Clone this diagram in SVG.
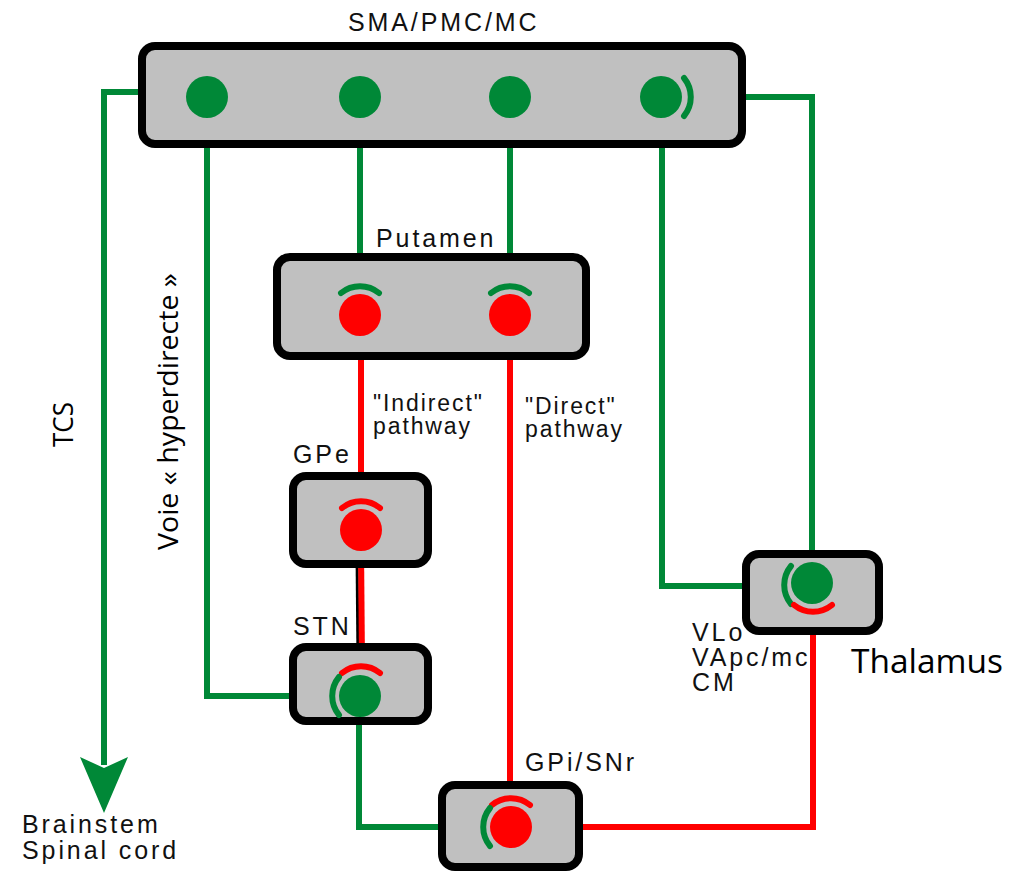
<svg xmlns="http://www.w3.org/2000/svg" width="1022" height="878" viewBox="0 0 1022 878">
  <style>
    .box { fill: #c0c0c0; stroke: #000; stroke-width: 8; }
    .lbl { font-family: "Liberation Sans", Arial, sans-serif; font-size: 25px; letter-spacing: 2.9px; fill: #111; }
    .path-lbl { font-size: 23px; letter-spacing: 1.9px; }
    .cal { font-family: "Open Sans", "Liberation Sans", sans-serif; fill: #000; }
    .g { stroke: #008837; stroke-width: 6; fill: none; }
    .r { stroke: #ff0000; stroke-width: 6; fill: none; }
    .syn-g { stroke: #008837; stroke-width: 6; fill: none; stroke-linecap: round; }
    .syn-r { stroke: #ff0000; stroke-width: 6; fill: none; stroke-linecap: round; }
    .cg { fill: #008837; }
    .cr { fill: #ff0000; }
  </style>

  <!-- connectors -->
  <g id="connectors">
    <!-- corticospinal tract -->
    <polyline class="g" points="142,92 104,92 104,765"/>
    <polygon class="cg" points="80,757 104,768 128,757 104,813"/>
    <!-- hyperdirect pathway: cortex to STN -->
    <polyline class="g" points="207,110 207,696 330,696"/>
    <!-- cortex to putamen -->
    <line class="g" x1="360" y1="110" x2="360" y2="285"/>
    <line class="g" x1="510" y1="110" x2="510" y2="285"/>
    <!-- cortex to thalamus -->
    <polyline class="g" points="662,110 662,586 782,586"/>
    <!-- thalamus to cortex -->
    <polyline class="g" points="690,97 812,97 812,565"/>
    <!-- indirect pathway -->
    <line class="r" x1="361" y1="330" x2="361" y2="500"/>
    <line stroke="#000" stroke-width="3" x1="357" y1="552" x2="358" y2="663"/>
    <line class="r" x1="361" y1="545" x2="362" y2="665"/>
    <!-- direct pathway -->
    <line class="r" x1="510" y1="330" x2="510" y2="797"/>
    <!-- STN to GPi -->
    <polyline class="g" points="359,712 359,827 481,827"/>
    <!-- GPi to thalamus -->
    <polyline class="r" points="525,827 813,827 813,612"/>
  </g>

  <!-- cortex -->
  <g id="cortex">
    <rect class="box" x="142" y="46" width="600" height="98" rx="13"/>
    <text class="lbl" x="348" y="31" font-size="26" letter-spacing="2.8">SMA/PMC/MC</text>
    <circle class="cg" cx="207" cy="97" r="21"/>
    <circle class="cg" cx="360" cy="97" r="21"/>
    <circle class="cg" cx="510" cy="97" r="21"/>
    <circle class="cg" cx="661" cy="97" r="21"/>
    <path class="syn-g" d="M684,78 A30,30 0 0 1 684,116"/>
  </g>

  <!-- putamen -->
  <g id="putamen">
    <rect class="box" x="277" y="257" width="309" height="99" rx="13"/>
    <text class="lbl" x="376" y="247" font-size="26" letter-spacing="2.7">Putamen</text>
    <path class="syn-g" d="M341,293 A30,30 0 0 1 379,293"/>
    <path class="syn-g" d="M491,293 A30,30 0 0 1 529,293"/>
    <circle class="cr" cx="360" cy="315" r="21"/>
    <circle class="cr" cx="510" cy="315" r="21"/>
  </g>

  <!-- GPe -->
  <g id="gpe">
    <rect class="box" x="293" y="476" width="135" height="88" rx="13"/>
    <text class="lbl" x="293" y="463" letter-spacing="3">GPe</text>
    <path class="syn-r" d="M342,508 A30,30 0 0 1 380,508"/>
    <circle class="cr" cx="361" cy="530" r="21"/>
  </g>

  <!-- STN -->
  <g id="stn">
    <rect class="box" x="293" y="647" width="135" height="74" rx="13"/>
    <text class="lbl" x="293" y="635" letter-spacing="2.5">STN</text>
    <path class="syn-r" d="M342,673 A30,30 0 0 1 380,673"/>
    <path class="syn-g" d="M339,715 A30,30 0 0 1 339,677"/>
    <circle class="cg" cx="360" cy="696" r="21"/>
  </g>

  <!-- GPi / SNr -->
  <g id="gpi">
    <rect class="box" x="442" y="785" width="137" height="82" rx="13"/>
    <text class="lbl" x="525" y="771" letter-spacing="4.2">GPi/SNr</text>
    <path class="syn-r" d="M492,805 A30,30 0 0 1 530,805"/>
    <path class="syn-g" d="M490,846 A30,30 0 0 1 490,808"/>
    <circle class="cr" cx="511" cy="827" r="21"/>
  </g>

  <!-- thalamus -->
  <g id="thalamus">
    <rect class="box" x="746" y="554" width="133" height="77" rx="13"/>
    <path class="syn-g" d="M791,604 A30,30 0 0 1 791,566"/>
    <path class="syn-r" d="M832,605 A30,30 0 0 1 794,605"/>
    <circle class="cg" cx="812" cy="583" r="21"/>
    <text class="lbl" x="692" y="641" font-size="24.5" letter-spacing="2.8">VLo</text>
    <text class="lbl" x="692" y="666" font-size="24.5" letter-spacing="2.8">VApc/mc</text>
    <text class="lbl" x="692" y="691" font-size="24.5" letter-spacing="2.8">CM</text>
    <text class="cal" x="851" y="673" font-size="32" textLength="152" lengthAdjust="spacingAndGlyphs">Thalamus</text>
  </g>

  <!-- pathway labels -->
  <g id="labels">
    <text class="lbl path-lbl" x="373" y="411">"Indirect"</text>
    <text class="lbl path-lbl" x="373" y="434">pathway</text>
    <text class="lbl path-lbl" x="525" y="414">"Direct"</text>
    <text class="lbl path-lbl" x="525" y="437">pathway</text>
    <text class="lbl" x="22" y="833">Brainstem</text>
    <text class="lbl" x="22" y="859" letter-spacing="2.8">Spinal cord</text>
    <text class="cal" transform="translate(73,447) rotate(-90)" font-size="27" textLength="45" lengthAdjust="spacingAndGlyphs">TCS</text>
    <text class="cal" transform="translate(178,550) rotate(-90)" font-size="27" textLength="277" lengthAdjust="spacingAndGlyphs">Voie « hyperdirecte »</text>
  </g>
</svg>
